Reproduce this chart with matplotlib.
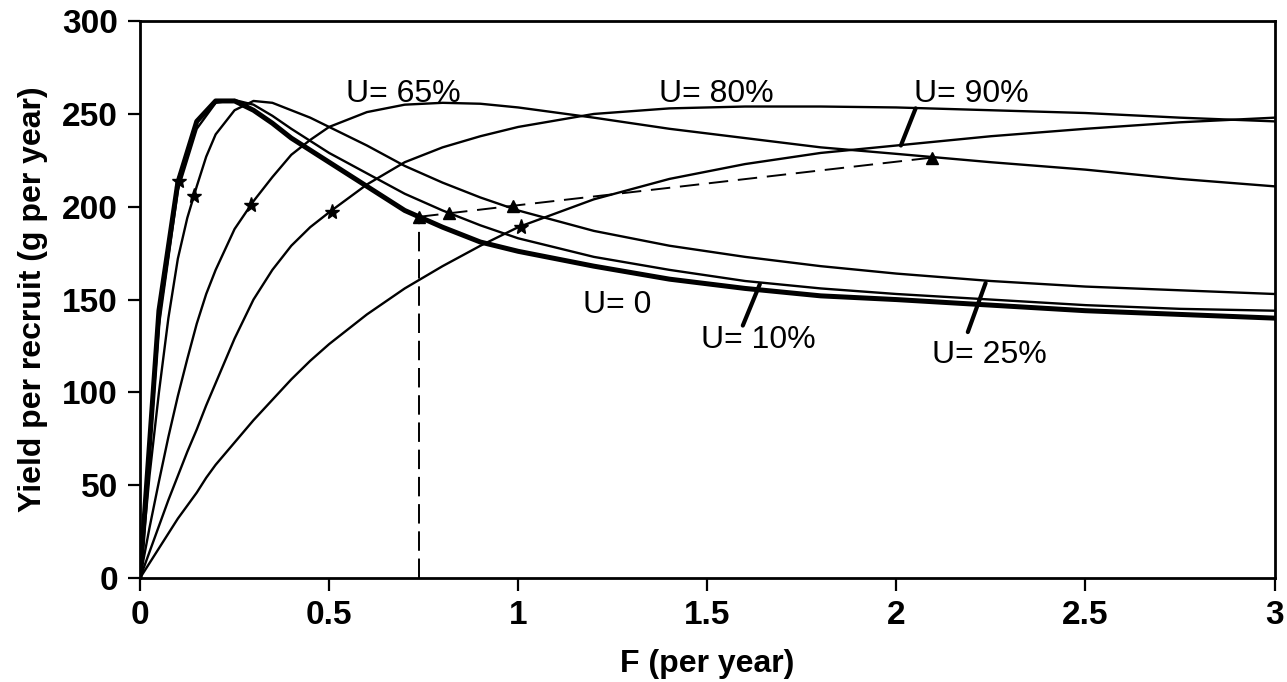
import matplotlib
matplotlib.use("Agg")
import matplotlib.pyplot as plt

plt.rcParams['font.family'] = ['Liberation Sans', 'DejaVu Sans']

# coarse grid used by the U=0 and U=10% curves (they show visible kinks)
F_coarse = [0, 0.05, 0.1, 0.15, 0.2, 0.25, 0.3, 0.35, 0.4, 0.5, 0.6, 0.7, 0.8, 0.9,
            1.0, 1.2, 1.4, 1.6, 1.8, 2.0, 2.25, 2.5, 2.75, 3.0]
# finer grid for the smoother curves
F_fine = [0, 0.025, 0.05, 0.075, 0.1, 0.125, 0.15, 0.175, 0.2, 0.25, 0.3, 0.35, 0.4,
          0.45, 0.5, 0.6, 0.7, 0.8, 0.9, 1.0, 1.2, 1.4, 1.6, 1.8, 2.0,
          2.25, 2.5, 2.75, 3.0]

# yield per recruit (g per year)
ypr_u0 = [0, 144, 213, 246, 257, 257, 252, 245, 237, 224, 211, 198, 189, 181,
          176, 168, 161, 156, 152, 150, 147, 144, 142, 140]
ypr_u10 = [0, 136, 209, 242, 256, 257.5, 255, 249, 242, 229, 218, 207, 198, 190,
           183, 173, 166, 160, 156, 153, 150, 147, 145, 144]
ypr_u25 = [0, 55, 100, 140, 172, 194, 211, 227, 239, 252, 257, 256, 252, 248, 243,
           233, 222, 213, 205, 198, 187, 179, 173, 168, 164, 160, 157, 155, 153]
ypr_u65 = [0, 27, 52, 76, 98, 118, 137, 153, 166, 188, 203, 216, 228, 236, 243,
           251, 255, 256, 255.5, 253.5, 248, 242, 237, 232, 228.5, 224, 220, 215, 211]
ypr_u80 = [0, 14, 28, 42, 55, 68, 80, 93, 105, 129, 150, 166, 179, 189, 197,
           212, 224, 232, 238, 243, 250, 253, 254, 254, 253.5, 252, 250.5, 248, 246]
ypr_u90 = [0, 8, 16, 24, 32, 39, 46, 54, 61, 73, 85, 96, 107, 117, 126,
           142, 156, 168, 179, 189, 204, 215, 223, 229, 233, 238, 242, 245.5, 248]

# star markers (one per curve with U > 0)
star_F = [0.103, 0.143, 0.293, 0.508, 1.007]
star_Y = [214, 206, 201, 197, 189]

# triangle markers joined by the dashed line
tri_F = [0.738, 0.818, 0.985, 2.095]
tri_Y = [194.6, 196.5, 200.5, 226.5]

# labels: text, text position, leader line (from, to) or None
labels = [
    ("U= 65%", (0.695, 261), None),
    ("U= 80%", (1.523, 261), None),
    ("U= 90%", (2.197, 261), ((2.051, 253), (2.012, 233))),
    ("U= 0", (1.262, 147), None),
    ("U= 10%", (1.636, 128), ((1.594, 136), (1.639, 158.3))),
    ("U= 25%", (2.245, 120), ((2.189, 132.5), (2.236, 158.9))),
]

fig = plt.figure(figsize=(12.87, 6.82), dpi=100)
ax = fig.add_axes([0.1088, 0.1525, 0.8815, 0.8165])

ax.plot(F_coarse, ypr_u0, color='black', lw=3.6, zorder=3)
ax.plot(F_coarse, ypr_u10, color='black', lw=1.7, zorder=3)
for ys in [ypr_u25, ypr_u65, ypr_u80, ypr_u90]:
    ax.plot(F_fine, ys, color='black', lw=1.7, zorder=3)

# dashed reference lines
ax.plot(tri_F, tri_Y, color='black', lw=1.4, dashes=(10, 5), zorder=2)
ax.plot([tri_F[0], tri_F[0]], [0, tri_Y[0]], color='black', lw=1.4, dashes=(10, 4), zorder=2)

ax.plot(tri_F, tri_Y, linestyle='none', marker='^', ms=8, color='black', zorder=4)
ax.plot(star_F, star_Y, linestyle='none', marker='*', ms=11, color='black', zorder=4)

for txt, pos, lead in labels:
    ax.text(pos[0], pos[1], txt, fontsize=23, ha='center', va='center')
    if lead is not None:
        ax.annotate('', xy=lead[1], xytext=lead[0],
                    arrowprops=dict(arrowstyle='-', lw=3, color='black',
                                    shrinkA=0, shrinkB=0))

ax.set_xlim(0, 3)
ax.set_ylim(0, 300)
ax.set_xticks([0, 0.5, 1, 1.5, 2, 2.5, 3])
ax.set_xticklabels(['0', '0.5', '1', '1.5', '2', '2.5', '3'])
ax.set_yticks(range(0, 301, 50))
ax.tick_params(direction='out', length=9, width=1.6, labelsize=24, pad=7)
for lab in ax.get_xticklabels() + ax.get_yticklabels():
    lab.set_fontweight('bold')
for sp in ax.spines.values():
    sp.set_linewidth(2)

ax.set_xlabel('F (per year)', fontsize=23, fontweight='bold', labelpad=13)
ax.set_ylabel('Yield per recruit (g per year)', fontsize=23, fontweight='bold', labelpad=10)

fig.savefig('out.png', dpi=100)
